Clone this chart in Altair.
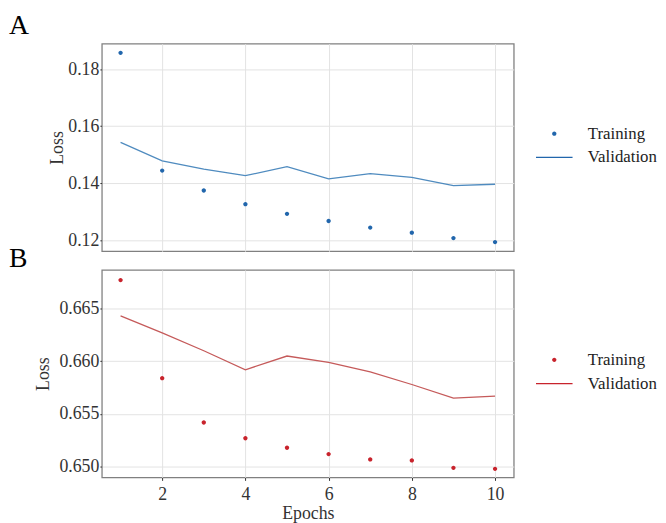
import altair as alt
import pandas as pd

epochs = [1, 2, 3, 4, 5, 6, 7, 8, 9, 10]
train_a = [0.1857, 0.1444, 0.1374, 0.1326, 0.1292, 0.1267, 0.1244, 0.1226, 0.1207, 0.1193]
val_a = [0.1543, 0.1478, 0.1449, 0.1426, 0.1458, 0.1415, 0.1433, 0.1420, 0.1391, 0.1396]
train_b = [0.6677, 0.6584, 0.6542, 0.6527, 0.6518, 0.6512, 0.6507, 0.6506, 0.6499, 0.6498]
val_b = [0.6643, 0.6627, 0.6610, 0.6592, 0.6605, 0.6599, 0.6590, 0.6578, 0.6565, 0.6567]
series_names = ["Training", "Validation"]
x_ticks = [2, 4, 6, 8, 10]
y_ticks_a = [0.12, 0.14, 0.16, 0.18]
y_ticks_b = [0.650, 0.655, 0.660, 0.665]

FONT = "Liberation Serif"
DOT = "M-0.22,0A0.22,0.22,0,1,1,0.22,0A0.22,0.22,0,1,1,-0.22,0Z"
LINE = "M-1.85,-0.065H1.85V0.065H-1.85Z"


def make_df(train, val):
    return pd.DataFrame({
        "epoch": epochs + epochs,
        "loss": train + val,
        "series": [series_names[0]] * len(epochs) + [series_names[1]] * len(epochs),
    })


def panel(df, pt_color, ln_color, ydom, yticks, yfmt, letter, letter_y, bottom, title_pad):
    if bottom:
        xaxis = alt.Axis(values=x_ticks, title="Epochs", grid=True, domain=False,
                         ticks=True, tickSize=3, tickColor="#333333", labelPadding=5,
                         titlePadding=2)
    else:
        xaxis = alt.Axis(values=x_ticks, title=None, grid=True, domain=False,
                         ticks=False, labels=False)
    x = alt.X("epoch:Q", scale=alt.Scale(domain=[0.55, 10.45], nice=False, zero=False),
              axis=xaxis)
    y = alt.Y("loss:Q", scale=alt.Scale(domain=ydom, nice=False, zero=False),
              axis=alt.Axis(values=yticks, format=yfmt, title="Loss", grid=True,
                            domain=False, ticks=True, tickSize=2, tickColor="#333333",
                            labelPadding=1, titlePadding=title_pad))
    base = alt.Chart(df)
    pts = base.transform_filter(alt.datum.series == "Training").mark_point(
        filled=True, size=400, color=pt_color, strokeWidth=0, opacity=1
    ).encode(
        x=x, y=y,
        shape=alt.Shape("series:N",
                        scale=alt.Scale(domain=series_names, range=[DOT, LINE]),
                        legend=alt.Legend(title=None, orient="none", legendX=448, legendY=81,
                                          symbolSize=400, symbolFillColor=pt_color,
                                          symbolStrokeWidth=0,
                                          symbolOpacity=1, labelFont=FONT, labelFontSize=17,
                                          labelColor="#222222", labelOffset=24, rowPadding=6,
                                          padding=0)),
    )
    lines = base.transform_filter(alt.datum.series == "Validation").mark_line(
        color=ln_color, strokeWidth=1.3
    ).encode(x=x, y=y)
    lab = alt.Chart(pd.DataFrame({"label": [letter]})).mark_text(
        font=FONT, fontSize=28, color="black", align="left", baseline="alphabetic"
    ).encode(text="label:N", x=alt.value(-94), y=alt.value(letter_y))
    return alt.layer(lines, pts, lab).properties(width=417, height=210)


a = panel(make_df(train_a, val_a), "#2166ac", "#4f8bbf", [0.1161, 0.1889], y_ticks_a,
          ".2f", "A", -10, False, 1)
b = panel(make_df(train_b, val_b), "#c8232c", "#c55a5a", [0.64899, 0.66866], y_ticks_b,
          ".3f", "B", -3, True, 6)

chart = alt.vconcat(a, b, spacing=19, bounds="flush").resolve_scale(
    shape="independent"
).properties(
    padding={"left": 0, "top": 0, "right": 0, "bottom": 0}
).configure_view(
    stroke="#808080", strokeWidth=1.3
).configure_axis(
    labelFont=FONT, titleFont=FONT, labelFontSize=18, titleFontSize=18,
    labelColor="#333333", titleColor="#333333", titleFontWeight="normal",
    gridColor="#e3e3e3", gridWidth=1
)

chart.save("out.html", embed_options={"renderer": "svg", "actions": False})
